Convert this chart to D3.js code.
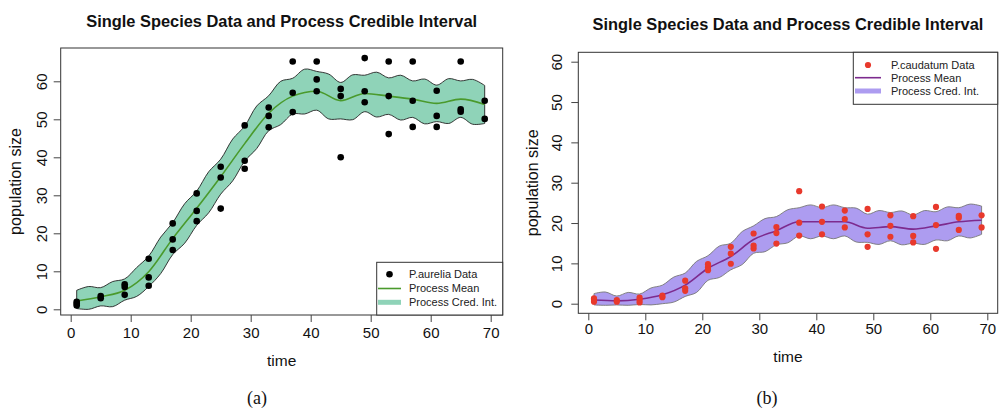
<!DOCTYPE html>
<html><head><meta charset="utf-8">
<script src="https://cdn.jsdelivr.net/npm/d3@7"></script>
<style>body{margin:0;background:#fff}svg{display:block}</style>
</head><body>
<svg id="c" width="1000" height="413"></svg>
<script>
// ---------- data ----------
const titleText = "Single Species Data and Process Credible Interval";
const xTicks = [0,10,20,30,40,50,60,70];
const yTicks = [0,10,20,30,40,50,60];
const obsTimes = [1,5,9,13,17,21,25,29,33,37,41,45,49,53,57,61,65,69];

// P.aurelia observations (time, value)
const aureliaData = [
 [1,1.0],[1,1.5],[1,2.0],[5,2.9],[5,3.5],[9,3.8],[9,5.9],[9,6.6],
 [13,6.2],[13,8.4],[13,13.3],[17,15.6],[17,18.4],[17,22.6],[21,23.2],[21,25.9],[21,30.5],
 [25,26.5],[25,34.7],[25,37.5],[29,37.0],[29,39.1],[29,48.4],[33,47.9],[33,50.9],[33,53.1],
 [37,51.9],[37,57.0],[37,65.2],[41,57.4],[41,60.5],[41,65.2],[45,40.0],[45,56.1],[45,58.0],
 [49,54.5],[49,57.4],[49,66.1],[53,46.1],[53,56.1],[53,65.2],[57,48.0],[57,54.9],[57,65.2],
 [61,48.0],[61,50.9],[61,57.5],[65,52.0],[65,52.6],[65,65.2],[69,50.1],[69,54.9]
];
const aureliaMean = [2.2,3.3,5.0,9.9,18.6,26.6,34.9,43.6,51.6,56.1,57.4,54.9,56.8,56.1,55.3,54.2,55.3,53.9];
const bandTimes = [1,3,5,7,9,11,13,15,17,19,21,23,25,27,29,31,33,35,37,39,41,43,45,47,49,51,53,55,57,59,61,63,65,67,69];
const aureliaUpper = [5.0,6.0,5.7,7.3,8.0,11.0,14.0,19.0,22.8,27.8,31.1,36.2,39.5,44.8,48.2,53.5,56.2,60.0,60.8,63.2,62.6,61.9,59.7,61.7,61.6,62.4,60.9,61.6,60.1,60.6,59.0,60.7,60.1,60.5,58.9];
const aureliaLower = [0.2,0.0,0.9,0.7,2.4,3.4,6.0,9.4,14.4,17.4,22.1,25.4,30.3,33.8,39.0,42.3,47.0,48.6,51.4,51.4,52.4,50.1,50.1,49.9,52.0,50.6,51.3,49.8,50.5,48.8,49.4,48.9,50.5,48.7,48.9];

// P.caudatum observations (time, value)
const caudatumData = [
 [1,0.5],[1,1.0],[1,1.3],[5,0.5],[5,0.9],[9,0.3],[9,0.9],[9,1.5],[13,1.6],[13,2.0],
 [17,3.2],[17,3.8],[17,5.7],[21,8.3],[21,9.0],[21,9.8],[25,9.9],[25,12.4],[25,14.1],
 [29,13.7],[29,14.4],[29,17.4],[33,14.9],[33,17.5],[33,19.0],[37,16.9],[37,20.1],[37,27.9],
 [41,17.2],[41,20.3],[41,24.1],[45,18.9],[45,21.0],[45,23.1],[49,14.1],[49,17.2],[49,23.5],
 [53,16.6],[53,19.3],[53,21.9],[57,15.2],[57,16.8],[57,21.7],[61,13.6],[61,19.5],[61,24.0],
 [65,18.3],[65,21.3],[65,21.8],[69,18.9],[69,21.9]
];
const caudatumMean = [0.9,0.7,1.1,2.2,4.6,8.8,11.7,15.9,18.1,20.3,20.3,20.3,18.7,19.1,18.5,19.3,20.3,20.7];
const caudatumUpper = [2.5,2.9,1.9,2.8,2.4,3.9,4.6,6.6,7.6,10.5,11.9,14.3,15.0,17.9,19.3,21.1,21.6,23.3,23.8,24.5,23.8,24.5,23.8,23.7,22.2,23.1,22.6,23.0,22.0,23.1,22.8,24.0,23.8,24.7,24.2];
const caudatumLower = [-0.3,-0.4,-0.3,-0.4,-0.2,-0.3,0.0,0.4,1.8,2.8,5.8,6.5,8.4,9.7,12.5,12.9,14.6,15.1,16.8,16.1,16.8,16.1,16.8,15.3,15.2,14.7,15.6,14.6,15.0,14.7,15.8,15.6,16.8,16.3,17.2];

const legendA = ["P.aurelia Data","Process Mean","Process Cred. Int."];
const legendB = ["P.caudatum Data","Process Mean","Process Cred. Int."];

// ---------- drawing ----------
const svg = d3.select("#c");
const FONT = "'Liberation Sans', Arial, Helvetica, sans-serif";

function panel(cfg){
  const g = svg.append("g");
  const x = d3.scaleLinear().domain([0,70]).range(cfg.xr);
  const y = d3.scaleLinear().domain([0,60]).range(cfg.yr);
  const [bx0,by0,bx1,by1] = cfg.box;
  const clipId = "clip"+cfg.id;
  svg.append("clipPath").attr("id",clipId).append("rect")
    .attr("x",bx0).attr("y",by0).attr("width",bx1-bx0).attr("height",by1-by0);
  const pg = g.append("g").attr("clip-path",`url(#${clipId})`);

  // band
  const area = d3.area().x((d,i)=>x(bandTimes[i])).y0((d,i)=>y(cfg.lower[i])).y1((d,i)=>y(cfg.upper[i]))
    .curve(d3.curveCatmullRom.alpha(0.5));
  pg.append("path").datum(cfg.upper).attr("d",area)
    .attr("fill",cfg.bandFill).attr("stroke",cfg.bandStroke).attr("stroke-width",0.9);
  // mean
  const line = d3.line().x((d,i)=>x(obsTimes[i])).y(d=>y(d)).curve(d3.curveMonotoneX);
  pg.append("path").datum(cfg.mean).attr("d",line).attr("fill","none")
    .attr("stroke",cfg.meanColor).attr("stroke-width",1.6);
  // points
  pg.selectAll("circle.pt").data(cfg.data).join("circle").attr("class","pt")
    .attr("cx",d=>x(d[0])).attr("cy",d=>y(d[1])).attr("r",cfg.r).attr("fill",cfg.ptColor);

  // box
  g.append("rect").attr("x",bx0).attr("y",by0).attr("width",bx1-bx0).attr("height",by1-by0)
    .attr("fill","none").attr("stroke","#333").attr("stroke-width",1);

  // axes
  const ax = g.append("g").attr("transform",`translate(0,${by1})`)
    .call(d3.axisBottom(x).tickValues(xTicks).tickSize(7).tickPadding(cfg.xPad));
  const ay = g.append("g").attr("transform",`translate(${bx0},0)`)
    .call(d3.axisLeft(y).tickValues(yTicks).tickSize(7).tickPadding(0));
  [ax,ay].forEach(a=>{
    a.select(".domain").remove();
    a.selectAll(".tick line").attr("stroke","#444");
    a.selectAll("text").attr("font-family",FONT).attr("font-size",15).attr("fill","#111");
  });
  ay.selectAll(".tick text").attr("text-anchor","middle").attr("x",0).attr("y",0).attr("dy","0.35em")
    .attr("transform",`translate(${cfg.yLabX-bx0},0) rotate(-90)`);

  // titles
  g.append("text").attr("x",(bx0+bx1)/2).attr("y",cfg.titleY).attr("text-anchor","middle")
    .attr("font-family",FONT).attr("font-weight","bold").attr("font-size",16.4).attr("fill","#111").text(titleText);
  g.append("text").attr("x",(bx0+bx1)/2).attr("y",cfg.xTitleY).attr("text-anchor","middle")
    .attr("font-family",FONT).attr("font-size",15.5).attr("fill","#111").text("time");
  g.append("text").attr("transform",`translate(${cfg.yTitleX},${(by0+by1)/2}) rotate(-90)`)
    .attr("text-anchor","middle").attr("dy","0.35em")
    .attr("font-family",FONT).attr("font-size",16).attr("fill","#111").text("population size");
  g.append("text").attr("x",cfg.capX).attr("y",404).attr("text-anchor","middle")
    .attr("font-family","'Liberation Serif','DejaVu Serif',serif").attr("font-size",18).attr("fill","#111").text(cfg.caption);

  // legend
  const [lx0,ly0,lx1,ly1] = cfg.legBox;
  const lg = g.append("g");
  lg.append("rect").attr("x",lx0).attr("y",ly0).attr("width",lx1-lx0).attr("height",ly1-ly0)
    .attr("fill","#fff").attr("stroke","#333").attr("stroke-width",1);
  const rows = cfg.legRows;
  lg.append("circle").attr("cx",(cfg.legLine[0]+cfg.legLine[1])/2).attr("cy",rows[0]).attr("r",cfg.r).attr("fill",cfg.ptColor);
  lg.append("line").attr("x1",cfg.legLine[0]).attr("x2",cfg.legLine[1]).attr("y1",rows[1]).attr("y2",rows[1])
    .attr("stroke",cfg.meanColor).attr("stroke-width",1.6);
  lg.append("line").attr("x1",cfg.legLine[0]).attr("x2",cfg.legLine[1]).attr("y1",rows[2]).attr("y2",rows[2])
    .attr("stroke",cfg.bandFill).attr("stroke-width",5);
  cfg.legText.forEach((t,i)=>{
    lg.append("text").attr("x",cfg.legTextX).attr("y",rows[i]).attr("dy","0.35em")
      .attr("font-family",FONT).attr("font-size",11).attr("fill","#222").text(t);
  });
}

panel({id:"a", xr:[70.7,490.7], yr:[309.3,81.3], box:[60.7,48,502.7,315],
  upper:aureliaUpper, lower:aureliaLower, mean:aureliaMean, data:aureliaData,
  bandFill:"#8fd3b8", bandStroke:"#222", meanColor:"#4a9a2c", ptColor:"#000", r:3.3,
  xPad:5, yLabX:42, titleY:26.5, xTitleY:366, yTitleX:15, capX:257, caption:"(a)",
  legBox:[376.7,262.3,502.7,315], legRows:[274.3,288.5,302.3], legLine:[378,401], legTextX:409, legText:legendA});

panel({id:"b", xr:[588.3,987.3], yr:[303.7,61.7], box:[578.3,52.3,997.7,313.3],
  upper:caudatumUpper, lower:caudatumLower, mean:caudatumMean, data:caudatumData,
  bandFill:"#ad9cf0", bandStroke:"#777", meanColor:"#7d2b8e", ptColor:"#e8392c", r:3.1,
  xPad:3, yLabX:557, titleY:30, xTitleY:362, yTitleX:532, capX:767, caption:"(b)",
  legBox:[853.3,52.3,997.7,104.3], legRows:[65,77.7,91], legLine:[855,881], legTextX:891, legText:legendB});
</script>
</body></html>
